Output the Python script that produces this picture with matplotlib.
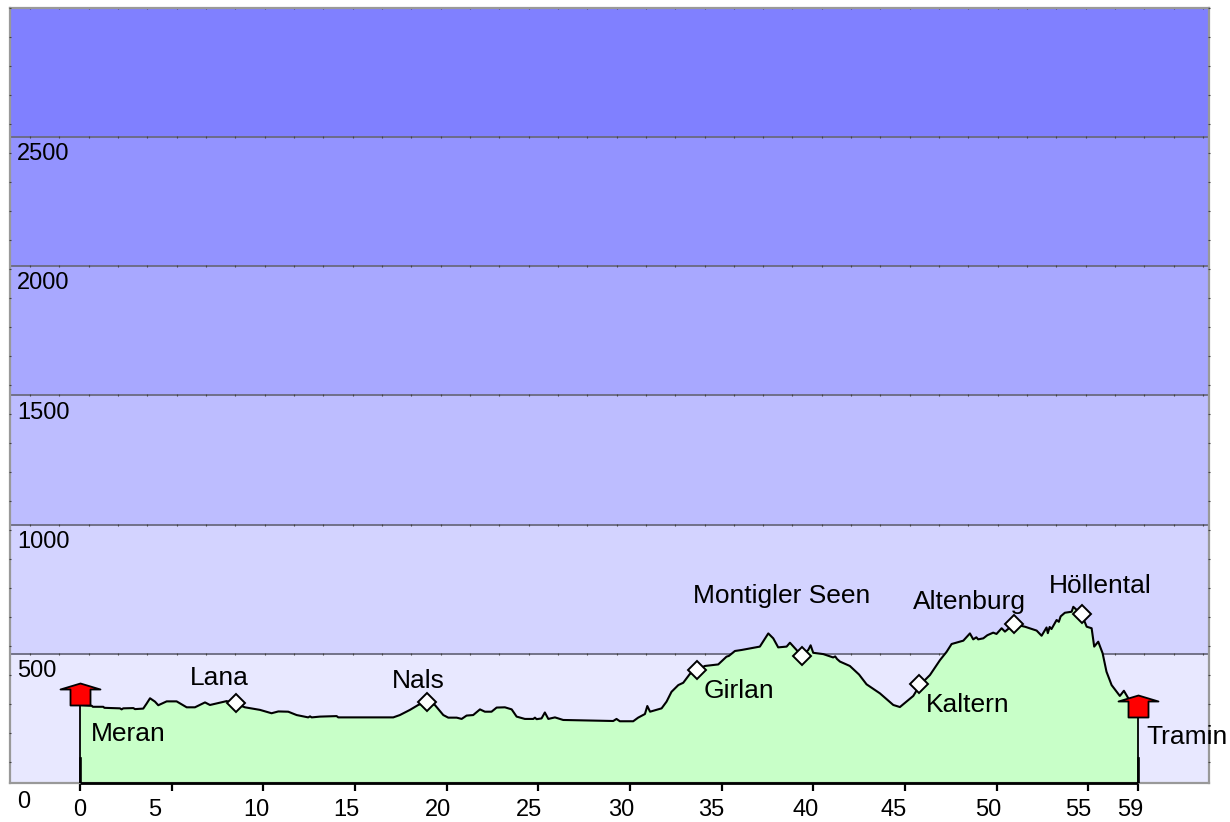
import numpy as np
import matplotlib
matplotlib.use('Agg')
import matplotlib.pyplot as plt
from matplotlib.path import Path

plt.rcParams['font.family'] = ['Liberation Sans', 'DejaVu Sans']

# route profile, km / metres
km = [0, 0.64, 0.7, 1.27, 1.33, 2.18, 2.27, 2.36, 2.91, 3.0, 3.45, 3.64, 3.82, 4.09, 4.27, 4.73, 5.27, 5.82, 6.27, 6.82,
      7.09, 7.45, 8.0, 8.45, 9.0, 9.82, 10.45, 10.82, 11.36, 11.82, 12.45, 12.55, 12.64, 13.09, 14.0, 14.09,
      17.09, 17.45, 18.0, 18.45, 18.91, 19.36, 19.82, 20.09, 20.55, 20.82, 21.09, 21.45, 21.82, 22.09,
      22.45, 22.73, 23.18, 23.55, 23.82, 24.27, 24.73, 24.82, 24.91, 25.18, 25.36, 25.55, 25.91, 26.36,
      29.09, 29.27, 29.45, 30.18, 30.45, 30.82, 30.95, 31.1, 31.73, 32.0, 32.27, 32.64, 32.91, 33.27,
      33.64, 34.09, 34.82, 35.27, 35.4, 35.73, 36.1, 36.55, 37.09, 37.55, 37.82, 38.09, 38.55, 38.73, 39.09, 39.37,
      39.73, 39.86, 40.0, 40.55, 41.09, 41.2, 41.3, 41.46, 42.0, 42.5, 42.91, 43.64, 44.37, 44.73, 45.46, 45.82, 46.37,
      46.92, 47.28, 47.55, 48.19, 48.55, 48.73, 48.9, 49.0, 49.28, 49.5, 49.82, 50.0, 50.28, 50.46, 50.95, 51.55, 52.19, 52.46,
      52.73, 52.8, 52.9, 53.0, 53.28, 53.4, 53.5, 53.73, 54.1, 54.19, 54.64, 54.92, 55.19, 55.33, 55.55, 55.79, 56.0, 56.28, 56.73,
      56.95, 57.19, 57.73]
elev = [302, 299, 295, 295, 291, 289, 285, 289, 290, 286, 288, 308, 328, 315, 301, 316, 316, 293, 293, 312,
        302, 308, 317, 308, 293, 283, 270, 277, 276, 263, 254, 258, 254, 257, 259, 254,
        254, 263, 283, 302, 315, 302, 263, 253, 253, 248, 261, 263, 285, 276,
        276, 292, 293, 285, 257, 248, 248, 253, 247, 250, 273, 248, 254, 244,
        240, 248, 239, 239, 253, 267, 298, 276, 289, 315, 353, 379, 388, 422,
        437, 453, 459, 489, 492, 511, 515, 521, 528, 579, 560, 525, 528, 543, 515, 491,
        515, 533, 504, 499, 486, 490, 480, 470, 453, 420, 382, 347, 302, 294, 337, 379, 418,
        476, 508, 538, 551, 579, 556, 564, 556, 560, 572, 582, 577, 599, 586, 615, 605, 590, 570,
        602, 580, 604, 596, 631, 624, 645, 659, 663, 682, 653, 605, 599, 528, 547, 502, 431, 379, 337,
        357, 328, 256]

# waypoints
via_names = ['Lana', 'Nals', 'Girlan', 'Montigler Seen', 'Kaltern', 'Altenburg', 'Höllental']
via_km = [8.51, 18.93, 33.64, 39.37, 45.79, 50.95, 54.64]
via_elev = [308, 315, 437, 493, 382, 615, 653]
via_label_px = [(190, 685), (392, 688), (704, 698), (693, 603), (926, 712), (913, 609), (1049, 593)]

end_names = ['Meran', 'Tramin']
end_km = [0, 57.73]
end_elev = [302, 256]
end_label_px = [(91, 741), (1146, 744)]

# elevation bands
band_edges = [0, 500, 1000, 1500, 2000, 2500, 3000]
band_colors = ['#e8e8ff', '#d3d3ff', '#bdbdff', '#a8a8ff', '#9393ff', '#8080ff']
y_labels = [500, 1000, 1500, 2000, 2500]

x_ticks = [0, 5, 10, 15, 20, 25, 30, 35, 40, 45, 50, 55, 57.73]
x_labels = ['0', '5', '10', '15', '20', '25', '30', '35', '40', '45', '50', '55', '59']
x_label_dx = [0, -16.5, -6.5, -9, -8.5, -9.5, -8.5, -10, -8, -11, -8, -10, -8]

W, H = 1230, 822
px = 72 / 100  # one pixel in points

fig = plt.figure(figsize=(W / 100, H / 100), dpi=100)
ax = fig.add_axes([10 / W, 1 - 783 / H, 1199 / W, 775 / H])
ax.set_xlim((10 - 80) / 18.33, (1209 - 80) / 18.33)
ax.set_ylim(0, 3000)

for i, c in enumerate(band_colors):
    ax.axhspan(band_edges[i], band_edges[i + 1], color=c, lw=0, zorder=0)

# tiny grid ticks sitting on the band lines and frame
x0, x1 = ax.get_xlim()
grid_x = np.arange(-2.73, x1, 1.6)
for e in band_edges[1:]:
    ax.axhline(e, color='#6a6a80', lw=1.3, zorder=1)
    ax.plot(grid_x, [e] * len(grid_x), ls='none', marker='|', ms=2, mew=0.8, color='#444444', zorder=1, clip_on=False)
grid_y = np.arange(3000, 0, -112.3)
ax.plot([x0] * len(grid_y), grid_y, ls='none', marker='_', ms=2, mew=0.8, color='#444444', zorder=3, clip_on=False)
ax.plot([x1] * len(grid_y), grid_y, ls='none', marker='_', ms=2, mew=0.8, color='#444444', zorder=3, clip_on=False)

ax.fill_between(km, 0, elev, color='#c8ffc8', lw=0, zorder=2)
ax.plot(km, elev, color='black', lw=1.5, zorder=3)
ax.plot([km[0], km[-1]], [0, 0], color='black', lw=2, zorder=3, clip_on=False, solid_capstyle='butt')
for k, e in zip(end_km, end_elev):
    ax.plot([k, k], [0, e], color='black', lw=1.3, zorder=3)
    ax.plot([k, k], [0, 95], color='black', lw=1.9, zorder=3)

ax.plot(via_km, via_elev, ls='none', marker='D', ms=9, mfc='white', mec='black', mew=1.4, zorder=4)

# start / finish house, anchored on its bottom centre
house = Path([(-10, 0), (10, 0), (10, 16), (20, 16), (0, 22), (-20, 16), (-10, 16), (-10, 0)], closed=True)
ax.plot(end_km, end_elev, ls='none', marker=house, ms=44 * px, mfc='red', mec='black', mew=1.3, zorder=5, clip_on=False)

for s in ax.spines.values():
    s.set_color('#999999')
    s.set_linewidth(1.6)

ax.set_yticks([])
ax.set_xticks(x_ticks)
ax.set_xticklabels([])
ax.tick_params(axis='x', length=8 * px, width=1.6, color='black')

for v, lab, dx in zip(x_ticks, x_labels, x_label_dx):
    ax.annotate(lab, (v, 0), xycoords=('data', 'axes fraction'), xytext=(dx * px, -32.5 * px),
                textcoords='offset points', ha='center', va='baseline', fontsize=17, annotation_clip=False)
for v in y_labels:
    ax.annotate(str(v), (0, v), xycoords=('axes fraction', 'data'), xytext=(7 * px, -23 * px),
                textcoords='offset points', ha='left', va='baseline', fontsize=17)
ax.annotate('0', (0, 0), xycoords=('axes fraction', 'data'), xytext=(7 * px, -25 * px),
            textcoords='offset points', ha='left', va='baseline', fontsize=17, annotation_clip=False)

for name, (lx, ly) in zip(via_names + end_names, via_label_px + end_label_px):
    fig.text(lx / W, 1 - ly / H, name, fontsize=19, ha='left', va='baseline', color='black', zorder=6)

fig.savefig('out.png', dpi=100)
